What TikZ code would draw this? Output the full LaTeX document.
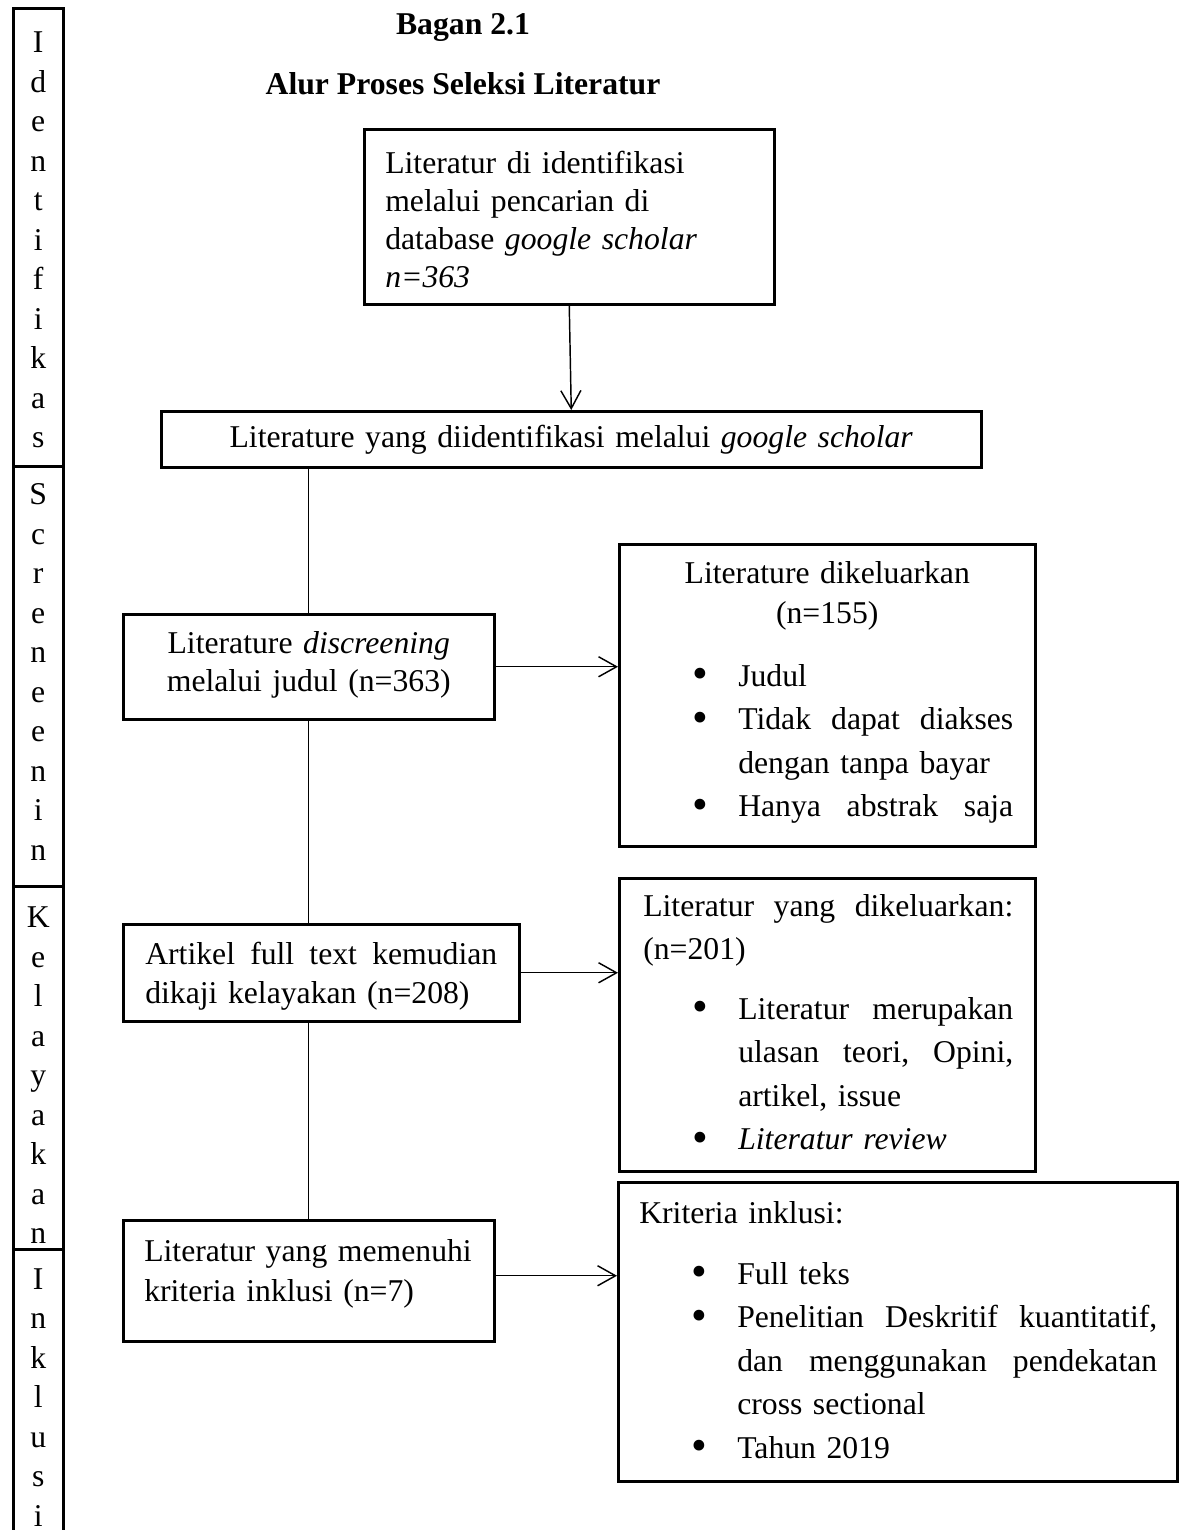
\documentclass[tikz,border=0pt]{standalone}
\usepackage{fontspec}
\setmainfont{Liberation Serif}
\usetikzlibrary{arrows.meta}
\newdimen\px \px=0.3785pt
\newcommand{\titik}{\makebox[46\px][l]{\raisebox{-1pt}{\fontsize{17}{17}\selectfont\textbullet}}}
\newcommand{\butir}[1]{\hspace*{73\px}\titik#1}
\newcommand{\lanjut}[1]{\hspace*{119\px}#1}
\newcommand{\rata}[2]{\hbox to #1\px{#2}}
\begin{document}
\begin{tikzpicture}[x=0.3785pt,y=-0.3785pt,font=\fontsize{12}{16}\selectfont,
  kotak/.style={draw,line width=0.95pt,anchor=north west,inner sep=0pt},
  tahap/.style={kotak,text width=50\px,align=center,font=\fontsize{12}{39.5\px}\selectfont},
  garis/.style={line width=0.55pt},
  panah/.style={garis,-{Straight Barb[length=6.8pt,width=7.6pt]}}]
\useasboundingbox (0,0) rectangle (1184,1530);

% judul
\node[font=\fontsize{12}{16}\bfseries,anchor=base] (judul) at (463,35) {Bagan 2.1};
\node[font=\fontsize{12}{16}\bfseries,anchor=base] (subjudul) at (463,95) {Alur Proses Seleksi Literatur};

% kolom tahap
\node[tahap,text height=44.5\px,text depth=413.5\px] (t1) at (12,7) {I\\d\\e\\n\\t\\i\\f\\i\\k\\a\\s};
\node[tahap,text height=38.5\px,text depth=381.5\px] (t2) at (12,465) {S\\c\\r\\e\\n\\e\\e\\n\\i\\n};
\node[tahap,text height=41.5\px,text depth=321.5\px] (t3) at (12,885) {K\\e\\l\\a\\y\\a\\k\\a\\n};
\node[tahap,text height=40\px,text depth=300\px] (t4) at (12,1248) {I\\n\\k\\l\\u\\s\\i};

% alur kiri
\node[kotak,text width=368\px,inner xsep=21\px,align=left,text height=44\px,text depth=131\px,
  font=\fontsize{12}{38\px}\selectfont] (b1) at (363,128)
  {Literatur di identifikasi\\melalui pencarian di\\database \textit{google scholar}\\\textit{n=363}};
\node[kotak,text width=820\px,align=center,text height=36\px,text depth=20\px] (b2) at (160,410)
  {Literature yang diidentifikasi melalui \textit{google scholar}};
\node[kotak,text width=371\px,align=center,text height=39\px,text depth=66\px,
  font=\fontsize{12}{38\px}\selectfont] (b3) at (122,613)
  {Literature \textit{discreening}\\melalui judul (n=363)};
\node[kotak,text width=352\px,inner xsep=22\px,align=left,text height=40\px,text depth=57\px,
  font=\fontsize{12}{39\px}\selectfont] (b4) at (122,923)
  {\rata{352}{Artikel\hfill full\hfill text\hfill kemudian}\\dikaji kelayakan (n=208)};
\node[kotak,text width=329\px,inner xsep=21\px,align=left,text height=41\px,text depth=80\px,
  font=\fontsize{12}{40\px}\selectfont] (b5) at (122,1219)
  {Literatur yang memenuhi\\kriteria inklusi (n=7)};

% kotak kanan
\node[kotak,text width=416\px,align=left,text height=39\px,text depth=263\px,
  font=\fontsize{12}{43.5\px}\selectfont] (r1) at (618,543)
  {\makebox[416\px]{Literature dikeluarkan}\\[-3.5\px]
   \makebox[416\px]{(n=155)}\\[19.5\px]
   \butir{Judul}\\
   \butir{\rata{275}{Tidak\hfill dapat\hfill diakses}}\\
   \lanjut{dengan tanpa bayar}\\
   \butir{\rata{275}{Hanya\hfill abstrak\hfill saja}}};
\node[kotak,text width=416\px,align=left,text height=38\px,text depth=255\px,
  font=\fontsize{12}{43.5\px}\selectfont] (r2) at (618,877)
  {\hspace*{24\px}\rata{370}{Literatur\hfill yang\hfill dikeluarkan:}\\[-0.5\px]
   \hspace*{24\px}(n=201)\\[16.5\px]
   \butir{\rata{275}{Literatur\hfill merupakan}}\\
   \lanjut{\rata{275}{ulasan\hfill teori,\hfill Opini,}}\\
   \lanjut{artikel, issue}\\
   \butir{\textit{Literatur review}}};
\node[kotak,text width=559\px,align=left,text height=41\px,text depth=258\px,
  font=\fontsize{12}{43.5\px}\selectfont] (r3) at (617,1181)
  {\hspace*{21\px}Kriteria inklusi:\\[17.5\px]
   \butir{Full teks}\\
   \butir{\rata{420}{Penelitian\hfill Deskritif\hfill kuantitatif,}}\\
   \lanjut{\rata{420}{dan\hfill menggunakan\hfill pendekatan}}\\
   \lanjut{cross sectional}\\
   \butir{Tahun 2019}};

% garis
\draw[panah] (b1.south) -- (b2.north);
\draw[garis] (b3.north |- b2.south) -- (b3.north);
\draw[garis] (b3.south) -- (b3.south |- b4.north);
\draw[garis] (b5.north |- b4.south) -- (b5.north);
\draw[panah] (b3.east) -- (b3.east -| r1.west);
\draw[panah] (b4.east) -- (b4.east -| r2.west);
\draw[panah] ([yshift=1.9pt]b5.east) -- ([yshift=1.9pt]b5.east -| r3.west);
\end{tikzpicture}
\end{document}
